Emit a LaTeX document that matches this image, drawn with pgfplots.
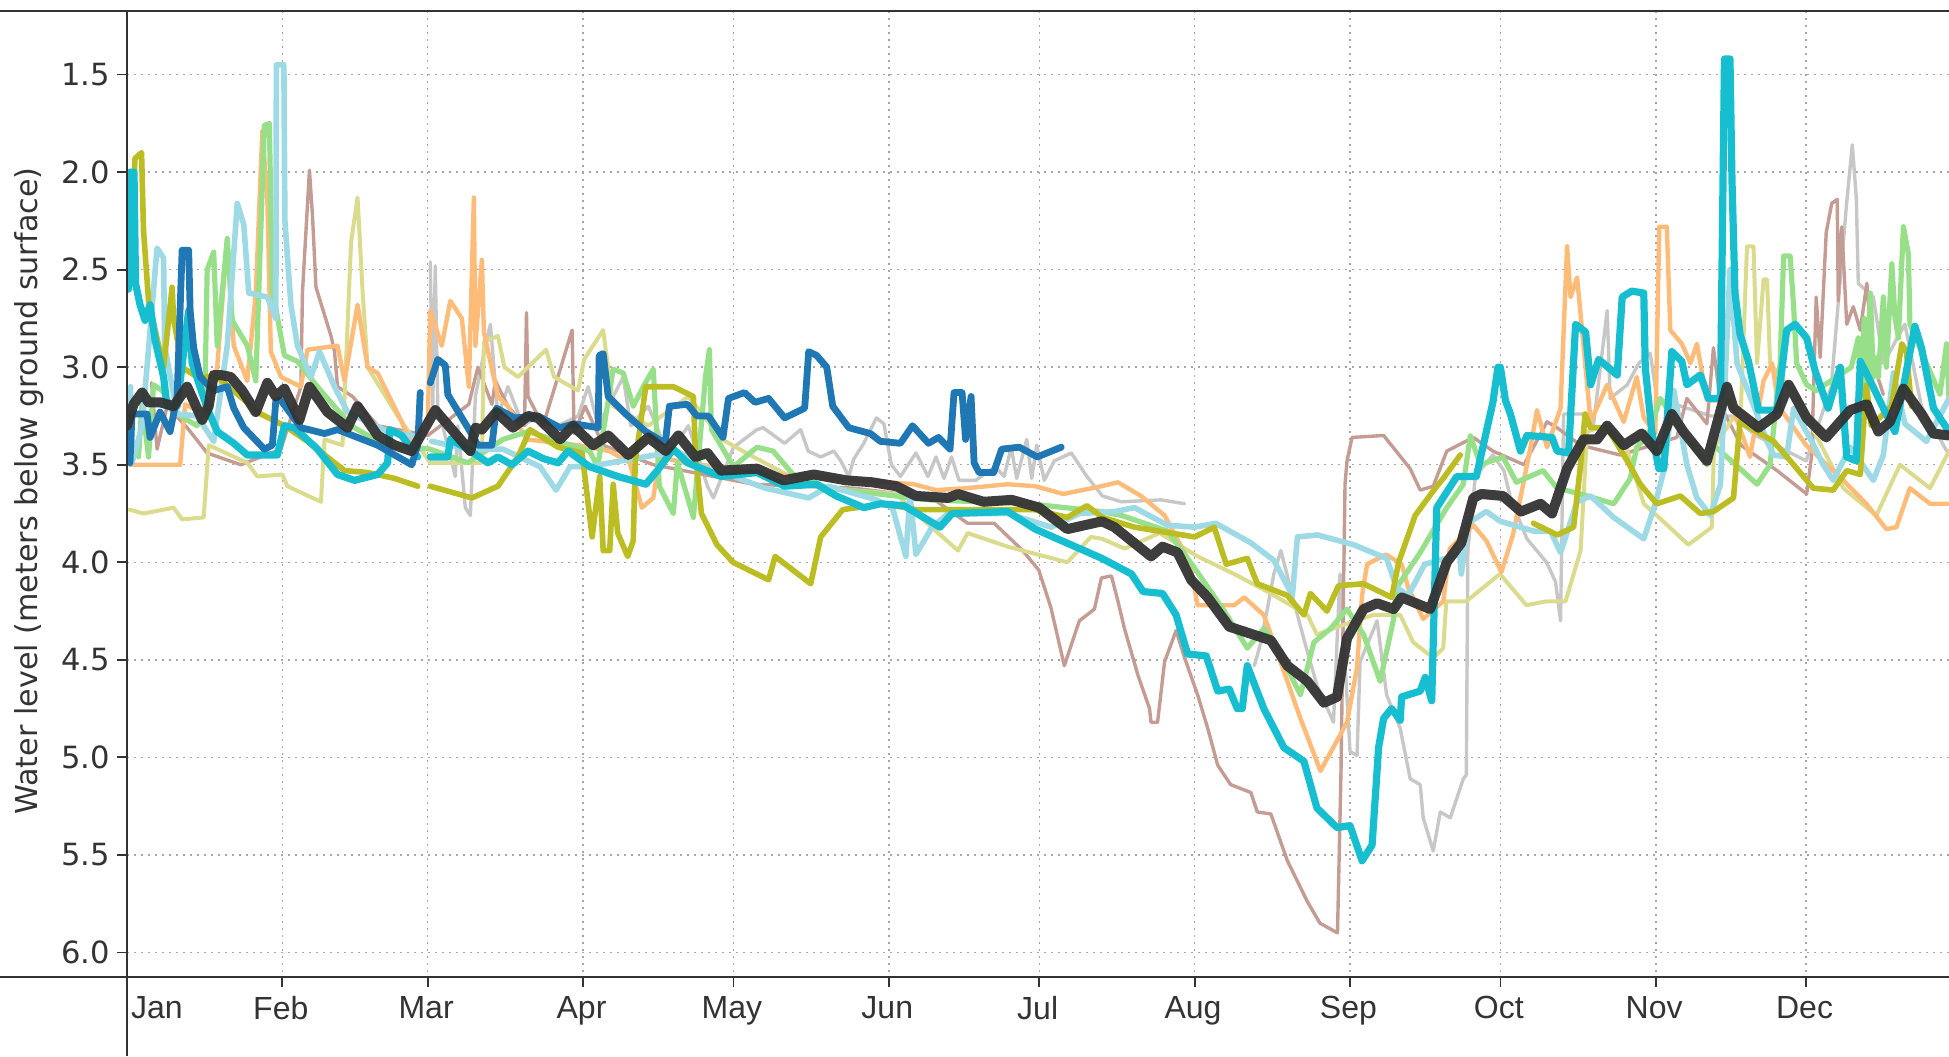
\documentclass[border=0pt]{standalone}
\usepackage{fontspec}
\setmainfont{Liberation Sans}
\newfontfamily\djfont{DejaVu Sans}
\usepackage{pgfplots}
\pgfplotsset{compat=1.18}
\definecolor{ink}{HTML}{333333}
\definecolor{cblue}{HTML}{1F77B4}
\definecolor{ccyan}{HTML}{17BECF}
\definecolor{lcyan}{HTML}{9EDAE5}
\definecolor{colive}{HTML}{BCBD22}
\definecolor{lolive}{HTML}{DBDB8D}
\definecolor{lgreen}{HTML}{98DF8A}
\definecolor{lorange}{HTML}{FFBB78}
\definecolor{lbrown}{HTML}{C49C94}
\definecolor{lgray}{HTML}{C7C7C7}
\begin{document}
\begin{tikzpicture}
\begin{axis}[
  name=ax, scale only axis, width=911pt, height=483pt,
  xmin=0, xmax=363.5, ymin=1.174, ymax=6.126, y dir=reverse,
  axis line style={draw=none}, tick align=outside, tick pos=left,
  major tick length=5pt,
  every tick/.style={draw=ink,line width=0.9pt},
  xtick={0,31,60,91,121,152,182,213,244,274,305,335},
  xticklabels={\hspace*{31.5pt}Jan,Feb,Mar,Apr,May,Jun,Jul,Aug,Sep,Oct,Nov,Dec},
  ytick={1.5,2,2.5,3,3.5,4,4.5,5,5.5,6},
  yticklabel style={/pgf/number format/fixed,/pgf/number format/fixed zerofill,/pgf/number format/precision=1,/pgf/number format/assume math mode=true,font=\djfont\fontsize{15.3}{18}\selectfont,text=ink},
  xticklabel style={font=\fontsize{16}{18}\selectfont,text=ink,yshift=-1pt,xshift=-0.8pt},
  grid=major,
  major grid style={draw=gray!70,line width=0.75pt,dash pattern=on 0.9pt off 2.6pt},
  ylabel={Water level (meters below ground surface)},
  every axis y label/.style={at={(rel axis cs:0,0.5)},xshift=-49pt,yshift=1.5pt,rotate=90,anchor=center,font=\djfont\fontsize{15.1}{18}\selectfont,text=ink},
  no markers, unbounded coords=jump,
  every axis plot/.append style={line join=round,line cap=round},
]
% gray
\addplot[lgray,line width=1.7pt] table {
60.5 2.46
61 3.2
61.5 2.48
62 3.2
65.5 3.56
66 3.3
67.5 3.72
68.5 3.76
69.5 3.15
71.5 2.89
72.5 2.78
74 3.25
76 3.1
79 3.3
82 3.25
86 3.3
90 3.25
92 3.1
94 3.3
99 3.05
100.5 3.3
104 3.2
108 3.45
112 3.3
115.8 3.61
117 3.67
121 3.41
125.7 3.32
126.9 3.31
131.2 3.39
134.4 3.32
135.9 3.43
138.4 3.46
141 3.43
142.4 3.48
144 3.56
145 3.47
147 3.39
149.5 3.26
151 3.29
152.5 3.5
154.3 3.56
157.4 3.44
159.8 3.56
161.4 3.46
163 3.57
164.5 3.46
166 3.58
169.3 3.58
173.2 3.51
175 3.56
176.4 3.41
177.5 3.57
179.5 3.37
180.5 3.57
181.5 3.4
183 3.58
185 3.48
188.4 3.44
191.5 3.56
194.6 3.66
198.4 3.69
206.3 3.68
211 3.7
nan nan
224.9 4.53
226 4.43
227.5 4.24
228.8 4.06
230.2 3.94
233.5 4.27
235.5 4.46
237.4 4.63
240.7 4.82
242 4.06
244 4.97
245.4 4.99
246 4.51
249.4 4.3
251.3 4.68
254 4.85
256 5.11
258 5.14
258.6 5.31
260.6 5.48
262 5.28
264 5.31
266.6 5.11
267.2 5.09
267.5 3.94
269 3.56
272.5 3.45
274.7 3.53
276 3.67
279.3 3.88
283.2 4.0
285 4.1
286 4.3
286.6 3.24
291.3 3.24
292.6 3.29
295.3 2.71
295.9 3.16
299.3 3.09
301.6 2.98
303.9 2.93
305.2 3.16
316 3.25
320 3.25
325 3.35
335 3.48
340 3.1
343 2.18
344.2 1.86
345 2.13
345.4 2.57
348.4 2.64
350.4 2.98
354.7 2.78
358 3.2
363.5 3.45
};
% brown
\addplot[lbrown,line width=1.7pt] table {
4.9 3.08
6 3.42
8 3.2
12 3.31
16 3.44
22.7 3.5
30.7 3.42
34.7 3.1
35 2.62
36.4 1.99
37 2.22
37.7 2.59
40.7 2.84
41.4 2.92
42 3.1
45 3.15
50 3.3
60 3.35
68.2 3.19
70 3.0
72.8 3.19
73.5 3.07
76 3.2
79.3 3.3
79.7 2.72
80 3.15
83 3.3
88.8 2.81
89.2 3.34
91.4 3.2
95 3.4
105 3.5
115 3.55
125 3.6
145 3.62
160.6 3.67
167.7 3.8
173 3.8
178.7 3.94
181.9 4.04
184.3 4.23
187 4.53
190 4.3
193 4.24
194.4 4.08
196.4 4.07
197.7 4.2
199 4.34
201.7 4.58
204 4.75
204.3 4.82
205.6 4.82
207 4.51
209.3 4.35
211 4.49
213.6 4.68
215.6 4.85
217.6 5.04
220.2 5.14
224.2 5.18
225.5 5.28
228.2 5.29
231.5 5.53
235.5 5.74
238 5.85
241.5 5.9
242.2 5.07
243 3.6
243.4 3.48
244.4 3.36
250.7 3.35
256 3.52
258 3.63
260.6 3.61
263.3 3.43
268.6 3.36
272.5 3.43
278.7 3.5
283.3 3.28
285.3 3.31
290 3.4
297.9 3.45
309.2 3.36
311.2 3.16
315.2 3.29
316.5 2.9
318 3.2
322 3.4
329.2 3.53
335.1 3.65
336.1 3.45
337 2.64
337.8 2.95
339 2.31
340.1 2.16
341.2 2.14
341.4 2.66
342.1 2.28
343.1 2.78
344.4 2.69
345.8 2.81
347.1 2.57
348.4 2.98
350.4 3.14
};
% pale olive
\addplot[lolive,line width=2pt] table {
0.5 3.73
3.3 3.75
9.3 3.72
11 3.78
15.3 3.77
16.3 3.4
24 3.49
26 3.56
31 3.55
32 3.61
38.7 3.69
39.4 3.37
43 3.4
44.7 2.36
46 2.13
47 2.61
48 3
54 3.25
60.5 3.49
70.8 3.49
71.2 2.87
74 2.84
75.3 3.0
78 3.05
83.6 2.91
85.2 3.05
90 3.12
91.2 2.96
95 2.81
97 3.2
104 3.3
112 3.15
118.7 3.37
125 3.46
136 3.61
153.5 3.65
157.4 3.75
165.8 3.94
167.7 3.85
175.7 3.92
187.6 4.0
192.3 3.87
194.6 3.88
199 3.93
206 3.85
213.6 3.97
220.9 4.06
227.5 4.15
235.5 4.27
237.4 4.37
245 4.3
248.7 4.27
254 4.27
256.6 4.41
260.6 4.49
262.6 4.44
263.2 4.2
267.2 4.2
273.9 4.06
279.2 4.22
283.2 4.2
287 4.2
290 3.94
291.3 3.33
295 3.3
299 3.4
302.6 3.7
305.2 3.76
311.5 3.91
316.2 3.82
316.6 3.41
322 3.2
323.2 2.38
324.5 2.38
325.2 2.98
326.5 2.55
327.2 2.55
327.8 2.98
333 3.15
342.4 3.62
349 3.76
353.7 3.5
359.7 3.62
363.5 3.43
};
% orange
\addplot[lorange,line width=2.2pt] table {
0.6 3.5
10.6 3.5
11.6 3.19
16 3.25
18 3
20 2.34
21.3 2.89
24 3.07
25.7 2.62
27 1.79
28 2.14
28.7 2.92
30.7 3.05
34.7 3.1
36 2.91
42 2.89
43.4 3.07
46 2.68
48 3.0
50 3.03
54.8 3.28
56.8 3.4
60 3.3
60.5 2.71
62.8 2.89
64.5 2.66
66.8 2.75
68.2 3.1
69.2 2.13
69.5 2.89
70.8 2.45
71.2 2.82
74 3.15
76 3.2
79.7 3.37
90 3.4
96.3 3.43
100.3 3.49
102.7 3.72
105 3.67
106.2 3.46
111.4 3.49
130 3.55
157 3.6
161.4 3.63
167.6 3.62
175.7 3.6
181.2 3.61
186.8 3.65
194.4 3.61
197.7 3.59
202.3 3.66
207 3.76
212 4.0
213.6 4.22
215 4.22
220.9 4.22
222.9 4.18
226.8 4.27
228.2 4.37
231.5 4.61
234.1 4.8
238.1 5.07
243.4 4.82
245.4 4.54
246.4 4.17
247.4 4.01
251.2 3.96
254.3 4.01
255.6 4.13
258.6 4.29
262.6 4.2
263.9 3.93
268.6 3.81
271.2 3.89
274.2 4.05
276.5 3.86
278 3.67
280 3.41
281.3 3.22
283.3 3.41
286 3.21
287.3 2.38
288 2.64
289.3 2.54
290 2.73
292 3.28
295.3 3.09
298.6 3.28
301.2 3.05
302.6 3.26
304.9 3.34
305.7 2.28
307.2 2.28
307.9 2.81
310.2 2.88
311.9 2.98
313.2 2.88
315.2 3.17
319.8 3.17
323.8 3.46
326.5 3.07
328.2 2.98
329.5 3.2
335 3.4
342.4 3.58
347 3.7
351 3.83
353 3.82
355.7 3.62
359.7 3.7
363.5 3.7
};
% light green
\addplot[lgreen,line width=2.6pt] table {
2.3 3.46
3 3.18
4.3 3.46
5.3 3.09
7 3.12
10 3.24
14 3.3
15.5 3.2
16 2.5
17.3 2.41
18 2.89
20 2.34
21 2.76
24 2.89
25.7 3.07
27.4 1.76
28.4 1.75
29 2.6
31.4 2.94
34 2.97
38 3.1
44.7 3.3
51.4 3.4
60.5 3.42
68 3.49
75 3.37
80 3.33
92.3 3.43
93.9 3.51
97 3.01
99 3.03
101 3.2
103 3.1
105 3.01
106.2 3.61
109 3.75
109.8 3.49
113 3.77
115.4 3.05
116.2 2.91
116.6 3.32
121 3.51
125.7 3.41
128.9 3.43
132.9 3.55
140 3.62
160 3.68
180 3.7
194.4 3.74
198.4 3.76
207.6 3.84
213 4.03
218.9 4.25
223.5 4.44
226.8 4.34
229.5 4.44
234.1 4.68
236.8 4.41
240.1 4.34
243.4 4.24
246.7 4.37
250 4.61
252.7 4.29
253.3 4.13
258 3.95
263.3 3.72
266.6 3.6
268 3.35
270 3.5
274.5 3.46
277.2 3.59
282.5 3.53
285.3 3.62
290 3.65
296.6 3.7
299.9 3.57
301.2 3.41
303.5 3.35
305.9 3.16
315.2 3.5
316.5 3.4
321.8 3.52
325.2 3.6
327.8 3.5
329.8 2.98
330.5 2.43
331.8 2.43
332.5 2.69
333.1 2.98
335.1 3.09
337 3.12
344 3.0
345.4 2.85
345.9 3.15
346.6 2.75
347.2 3.1
347.8 2.62
348.4 3.05
348.8 2.95
349.4 3.05
350.4 2.64
351 3.0
352.1 2.47
352.7 2.74
353.4 2.85
354.4 2.28
355.4 2.42
355.7 2.78
359 2.98
361.7 3.14
363 2.88
363.5 3.16
};
% light cyan
\addplot[lcyan,line width=2.8pt] table {
0.7 3.1
1 3.49
3 3.3
6 2.39
7.3 2.44
7.5 2.89
10 3.24
14 3.25
17.3 3.38
20 2.89
22 2.16
23.3 2.27
24.3 2.62
28 2.64
29.7 2.75
29.8 1.45
31.3 1.45
31.5 2.25
32.7 2.68
34 2.89
36.7 3.05
38.4 2.92
41.4 3.1
44 3.23
52 3.33
59 3.36
nan nan
60.8 3.38
68 3.42
75 3.42
82.4 3.51
85.6 3.63
88.4 3.51
92 3.51
109.8 3.43
114.6 3.51
121 3.56
127.3 3.62
136 3.67
140 3.61
149.5 3.68
152.7 3.72
155.4 3.97
156.2 3.65
157.4 3.96
160.6 3.82
163.8 3.75
175.7 3.75
184.4 3.82
190 3.75
197 3.74
201 3.72
207.6 3.81
213 3.82
217.2 3.8
224.2 3.9
228.8 3.99
232.5 4.17
233.5 3.87
237.5 3.86
244.7 3.91
251.3 3.98
253.3 4.13
255.6 4.17
258.9 4.01
265.9 3.96
266.2 4.06
267.5 3.8
271.2 3.74
274 3.79
280.6 3.84
284 3.84
286 3.95
289.3 3.69
292 3.66
296.6 3.77
302.6 3.88
304.9 3.7
306.6 3.53
308.6 3.12
311.2 3.5
313.2 3.67
315.9 3.76
317.9 3.6
319.8 2.5
321.2 2.98
325.2 3.24
327.2 3.38
328.5 3.45
331.1 3.46
332.5 3.21
336.1 3.38
338.4 3.5
340.4 3.58
343.8 3.41
348.4 3.58
350.4 3.45
352.4 3.03
354.7 3.29
359 3.38
363.5 3.16
};
% olive
\addplot[colive,line width=2.8pt] table {
0.5 2.5
1.6 1.93
2.9 1.9
3.3 2.3
4.3 2.66
7.3 3.0
9 2.59
9.3 2.75
11 3.0
14 3.05
18 3.05
26.7 3.24
31.4 3.3
36 3.38
43.4 3.53
48 3.54
53.4 3.57
58 3.61
nan nan
60.5 3.61
68.8 3.67
74 3.61
78 3.46
80.4 3.32
86 3.41
90.8 3.44
92.8 3.87
94.3 3.56
95 3.94
96.3 3.94
97 3.6
97.9 3.85
99.9 3.97
101 3.89
101.4 3.48
103.5 3.1
109 3.1
113 3.15
113.4 3.44
114.6 3.75
117.7 3.91
120.9 4.0
128 4.09
129.3 3.97
136.4 4.11
138.4 3.87
142.8 3.73
151 3.7
157.4 3.73
173.2 3.73
181 3.73
187.6 3.77
191.5 3.71
194.6 3.77
201 3.82
213 3.87
216.9 3.82
219.3 4.01
223.5 3.98
225.5 4.11
231.5 4.17
234.8 4.27
236.1 4.16
239.4 4.25
241.7 4.12
246.7 4.11
252.3 4.18
253.7 4.0
257 3.76
261 3.62
262.6 3.57
266 3.45
nan nan
280.6 3.8
285.3 3.86
288.6 3.82
290 3.5
290.9 3.24
292 3.31
295.3 3.31
299.3 3.48
301.9 3.6
305.2 3.7
309.9 3.66
313.9 3.75
316.5 3.74
320.5 3.67
321.8 3.28
328.5 3.38
332.5 3.5
336.4 3.62
340.4 3.63
343.1 3.53
345.8 3.55
347 3.09
348 3.3
352 3.2
354.1 2.88
355 2.92
356 3.2
};
% cyan
\addplot[ccyan,line width=3.6pt] table {
0.3 2.6
0.6 2.0
1.4 2.0
1.7 2.57
2.6 2.68
3.6 2.76
4.6 2.68
5.6 2.86
7.3 3.05
8 3.2
10 3.2
12.3 2.71
13 2.98
16 3.21
18 3.33
21.3 3.39
24 3.45
30 3.45
31.4 3.3
33.4 3.31
38 3.42
42 3.55
45.4 3.58
50 3.55
52 3.49
52.4 3.32
54.8 3.35
58 3.46
nan nan
60.5 3.46
64 3.46
64.5 3.37
68 3.42
72 3.49
74 3.46
76.8 3.5
80 3.43
83.2 3.47
86 3.49
88 3.43
92.3 3.51
97.9 3.56
103.5 3.6
105.8 3.53
109 3.42
111.8 3.49
118.5 3.56
125.7 3.54
131.2 3.61
137.6 3.6
141.5 3.66
147 3.72
150.3 3.7
155 3.71
162.2 3.82
164.6 3.75
175.7 3.74
181.2 3.83
194.5 3.98
200.4 4.06
202.7 4.15
206.6 4.16
209.3 4.27
211.6 4.47
215.3 4.48
217.6 4.66
219.9 4.65
221.5 4.75
222.5 4.75
223.5 4.53
226.8 4.75
230.8 4.95
234.8 5.02
237.4 5.26
241.4 5.36
244 5.35
246.4 5.53
248.4 5.45
249.7 4.95
250.7 4.8
252.3 4.75
254 4.81
254.3 4.69
258 4.66
259 4.59
260.3 4.71
261.3 3.72
265.3 3.56
269.2 3.56
272.5 3.18
273.5 3.0
274 3.0
275 3.17
276 3.24
278 3.43
279.3 3.35
284.3 3.36
285.3 3.43
287.6 3.44
289 2.78
291 2.82
292 3.09
293.6 2.96
297.3 3.04
298.3 2.64
300.2 2.61
302.6 2.62
302.9 3.0
304.2 3.33
305.6 3.52
306.6 3.52
308.2 2.92
310.2 2.97
311.2 3.09
313.9 3.04
315.5 3.16
317.9 3.16
318.7 1.42
319.8 1.42
320.2 2.04
320.8 2.62
321.8 2.83
323.5 2.97
325.5 3.22
329.2 3.22
331.1 2.81
332.8 2.78
335.1 2.85
336.8 3.02
339.4 3.21
341.8 3.0
343.1 3.46
345 3.48
345.8 2.97
347.4 3.05
350.4 3.21
352.7 3.33
356.7 2.79
358 2.9
360.4 3.21
363.5 3.33
};
% blue
\addplot[cblue,line width=3.4pt] table {
0.6 3.49
1 3.24
4 3.24
4.6 3.36
6.6 3.23
8.6 3.33
10 3.15
11 2.4
12.3 2.4
12.6 2.71
13.3 2.9
14.6 3.05
17.3 3.12
20 3.1
21.3 3.21
23.3 3.31
27.4 3.42
29 3.4
29.7 3.17
30.7 3.17
34.7 3.31
39.4 3.34
42 3.32
46 3.36
50 3.4
56.8 3.5
58 3.4
58.5 3.13
nan nan
60.5 3.08
62 2.96
63.5 2.99
64 3.14
68 3.31
70 3.4
72.8 3.4
73.7 3.21
77.3 3.26
82 3.25
86.4 3.31
89.2 3.29
94 3.31
94.2 2.94
95 2.93
96 3.15
99.5 3.24
103.5 3.33
107.4 3.39
108.2 3.2
111.8 3.19
113.7 3.25
116 3.25
118.9 3.36
120 3.16
123.2 3.13
125.3 3.18
128 3.16
131.2 3.26
135.2 3.21
136 2.92
137.6 2.94
139.6 3.0
140.8 3.2
144 3.31
148.3 3.34
150.3 3.38
154.3 3.39
156.7 3.3
159.9 3.39
161.9 3.36
164.2 3.42
165 3.13
166.6 3.13
167.3 3.37
168.4 3.15
169 3.49
170 3.54
172.9 3.54
174.5 3.42
178 3.41
181.6 3.46
186.4 3.41
};
% mean
\addplot[ink,line width=5pt,opacity=0.95] table {
0 3.30
1.3 3.19
3 3.13
4.3 3.18
6.6 3.18
9.3 3.2
12 3.1
15 3.27
16.3 3.2
17.3 3.04
18.7 3.04
20.7 3.05
23 3.12
25.7 3.23
28 3.08
29.7 3.15
31.4 3.11
34.4 3.27
36.4 3.1
40 3.23
44 3.31
46 3.2
50 3.35
53.4 3.4
56.8 3.43
61.5 3.22
68.5 3.43
69.5 3.31
70.8 3.32
73.7 3.23
77 3.31
80 3.25
82 3.26
86.4 3.37
89 3.3
93 3.4
96 3.35
100 3.45
104 3.36
107.5 3.43
110 3.35
113.4 3.46
115.8 3.44
118.5 3.53
125.7 3.52
131 3.58
137 3.55
143.5 3.58
148.7 3.59
153.5 3.61
157.4 3.66
163.8 3.67
165.8 3.65
170.9 3.69
176.5 3.68
182 3.72
187.6 3.83
194.5 3.79
197 3.82
204.3 3.97
206.6 3.92
209.6 3.95
212.3 4.09
215.6 4.18
219.9 4.33
228.2 4.4
231.5 4.53
235.5 4.61
238.8 4.72
241.4 4.69
243.4 4.39
246.7 4.24
249.4 4.21
252.7 4.24
254.3 4.18
260 4.24
263.3 4.0
266.2 3.9
268.6 3.67
270.2 3.65
274.5 3.66
278.1 3.74
282 3.7
284.3 3.75
287.3 3.52
290.6 3.37
293.3 3.37
295.3 3.3
298.6 3.4
302.2 3.34
305.2 3.43
308.2 3.24
310.5 3.33
315.2 3.48
319.2 3.1
320.5 3.21
325.5 3.31
329.2 3.24
331.5 3.09
335.1 3.26
339 3.36
343.8 3.22
347.1 3.19
349.4 3.33
351.7 3.28
354.4 3.11
358 3.24
360.4 3.34
363.5 3.35
};
\end{axis}
\draw[ink,line width=0.9pt] ([xshift=-63.5pt]ax.north west) -- (ax.north east);
\draw[ink,line width=0.9pt] ([xshift=-63.5pt]ax.south west) -- (ax.south east);
\draw[ink,line width=0.9pt] (ax.north west) -- ([yshift=-39.5pt]ax.south west);
\pgfresetboundingbox
\path ([xshift=-63.5pt,yshift=5.5pt]ax.north west) rectangle ([yshift=-39.5pt]ax.south east);
\end{tikzpicture}
\end{document}
